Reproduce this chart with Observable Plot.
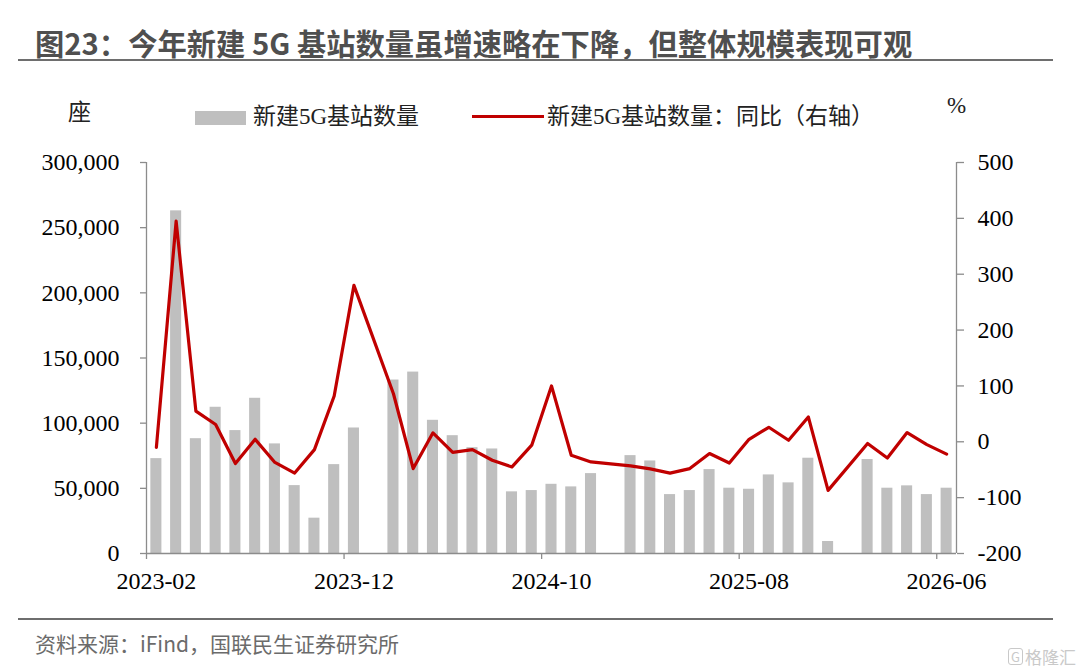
<!DOCTYPE html>
<html>
<head>
<meta charset="utf-8">
<script src="https://cdn.jsdelivr.net/npm/d3@7"></script>
<script src="https://cdn.jsdelivr.net/npm/@observablehq/plot@0.6"></script>
<style>
  body { margin: 0; background: #fff; }
  #wrap { position: relative; width: 1080px; height: 671px; overflow: hidden; background: #fff; }
  .abs { position: absolute; white-space: nowrap; }
  #title { left: 35px; top: 22px; font-weight: bold; font-size: 29.3px; line-height: 40px; font-family: "Noto Sans CJK SC", "Noto Sans", sans-serif; color: #4f4f4f; }
  .rule { position: absolute; left: 18px; width: 1035px; height: 2px; background: #6e6e6e; }
  .leg { font-family: "Liberation Serif", "Noto Sans CJK SC", serif; font-size: 23px; line-height: 28px; color: #222; }
  #swatch { position: absolute; left: 195px; top: 111px; width: 51px; height: 14px; background: #bfbfbf; }
  #redline { position: absolute; left: 472px; top: 115px; width: 72px; height: 3px; background: #c00000; }
  #caption { left: 35px; top: 628px; font-size: 21px; line-height: 30px; font-family: "Noto Sans CJK SC", sans-serif; color: #6b6b6b; }
  #wm { left: 1008px; top: 646px; font-size: 17px; line-height: 22px; font-family: "Noto Sans CJK SC", sans-serif; color: #c9c9c9; }
  #wm span { display: inline-block; border: 1.5px solid #c9c9c9; border-radius: 3px; font-size: 13px; line-height: 15px; padding: 0 2px; margin-right: 2px; vertical-align: 2px; }
  #chart { position: absolute; left: 0; top: 140px; }
  #chart svg, #chart svg text { font-family: "Liberation Serif", "Times New Roman", serif !important; }
</style>
</head>
<body>
<div id="wrap">
  <div id="title" class="abs">图23：今年新建 5G 基站数量虽增速略在下降，但整体规模表现可观</div>
  <div class="rule" style="top:59px"></div>
  <div class="abs leg" style="left:68px;top:99px">座</div>
  <div id="swatch"></div>
  <div class="abs leg" style="left:253px;top:103px">新建5G基站数量</div>
  <div id="redline"></div>
  <div class="abs leg" style="left:547px;top:103px">新建5G基站数量：同比（右轴）</div>
  <div class="abs leg" style="left:947px;top:92px">%</div>
  <div id="chart"></div>
  <div class="rule" style="top:618px"></div>
  <div id="caption" class="abs">资料来源：iFind，国联民生证券研究所</div>
  <div id="wm" class="abs"><span>G</span>格隆汇</div>
</div>
<script>
// ---- data ----
const months = [
  "2023-02","2023-03","2023-04","2023-05","2023-06","2023-07","2023-08","2023-09","2023-10","2023-11","2023-12",
  "2024-01","2024-02","2024-03","2024-04","2024-05","2024-06","2024-07","2024-08","2024-09","2024-10","2024-11","2024-12",
  "2025-01","2025-02","2025-03","2025-04","2025-05","2025-06","2025-07","2025-08","2025-09","2025-10","2025-11","2025-12",
  "2026-01","2026-02","2026-03","2026-04","2026-05","2026-06"
];
// 新建5G基站数量（座）
const newStations = [
  72800, 262900, 88100, 112200, 94300, 119100, 84100, 52100, 27100, 68200, 96300,
  null, 133100, 139200, 102200, 90400, 81200, 80200, 47300, 48300, 53100, 51100, 61300,
  null, 75100, 71000, 45200, 48300, 64400, 50100, 49300, 60300, 54200, 73100, 9200,
  null, 72100, 50100, 51900, 45200, 50100
];
// 同比（%，右轴）
const yoyPct = [
  -10, 395, 55, 31, -39, 4.5, -37, -56, -14, 82, 280,
  null, 86, -48, 16, -19, -14, -33, -45, -6, 100, -24, -36,
  null, -43, -48.5, -56, -48, -21, -38, 4.5, 26, 2.7, 44.5, -87,
  null, -3, -29, 16.5, -5, -22
];
const xTickLabels = ["2023-02","2023-12","2024-10","2025-08","2026-06"];
const leftTicks = [0, 50000, 100000, 150000, 200000, 250000, 300000];
const rightTicks = [-200, -100, 0, 100, 200, 300, 400, 500];

// ---- layout ----
const W = 1080, H = 470, ML = 146, MR = 124, MT = 22, MB = 57;
const step = (W - ML - MR) / months.length;
const leftMax = 300000, rightMin = -200, rightMax = 500;
const toLeft = v => (v - rightMin) * leftMax / (rightMax - rightMin);
const fromLeft = v => Math.round(v * (rightMax - rightMin) / leftMax + rightMin);

const rows = months.map((m, i) => ({month: m, n: newStations[i], yoy: yoyPct[i]}));
const barRows = rows.filter(d => d.n != null);
const lineRows = rows.filter(d => d.yoy != null);

const axisGray = "#8c8c8c";

const chart = Plot.plot({
  width: W, height: H,
  marginLeft: ML, marginRight: MR, marginTop: MT, marginBottom: MB,
  style: {fontFamily: "'Liberation Serif', serif", fontSize: "24px", color: "#000", background: "transparent", overflow: "visible"},
  x: {type: "band", domain: months, paddingInner: 0.44, paddingOuter: 0.22},
  y: {domain: [0, leftMax]},
  marks: [
    Plot.barY(barRows, {x: "month", y: "n", fill: "#bfbfbf"}),
    Plot.ruleY([0], {stroke: axisGray, strokeWidth: 1.3}),
    Plot.ruleX([months[0]], {dx: -step / 2, stroke: axisGray, strokeWidth: 1.3}),
    Plot.ruleX([months[months.length - 1]], {dx: step / 2, stroke: axisGray, strokeWidth: 1.3}),
    Plot.axisY({ticks: leftTicks, tickFormat: d3.format(","), tickSize: 6, tickPadding: 21, stroke: axisGray, strokeWidth: 1.3, fill: "#000", label: null}),
    Plot.axisY({anchor: "right", ticks: rightTicks.map(toLeft), tickFormat: v => String(fromLeft(v)), tickSize: 7, tickPadding: 14, stroke: axisGray, strokeWidth: 1.3, fill: "#000", label: null}),
    Plot.axisX({ticks: xTickLabels, tickSize: 0, tickPadding: 18, fill: "#000", label: null}),
    Plot.axisX({ticks: xTickLabels, tickSize: 6, tickFormat: () => "", dx: -step / 2, stroke: axisGray, strokeWidth: 1.3, label: null}),
    Plot.lineY(lineRows, {x: "month", y: d => toLeft(d.yoy), stroke: "#c00000", strokeWidth: 3.2})
  ]
});
document.getElementById("chart").appendChild(chart);
</script>
</body>
</html>
